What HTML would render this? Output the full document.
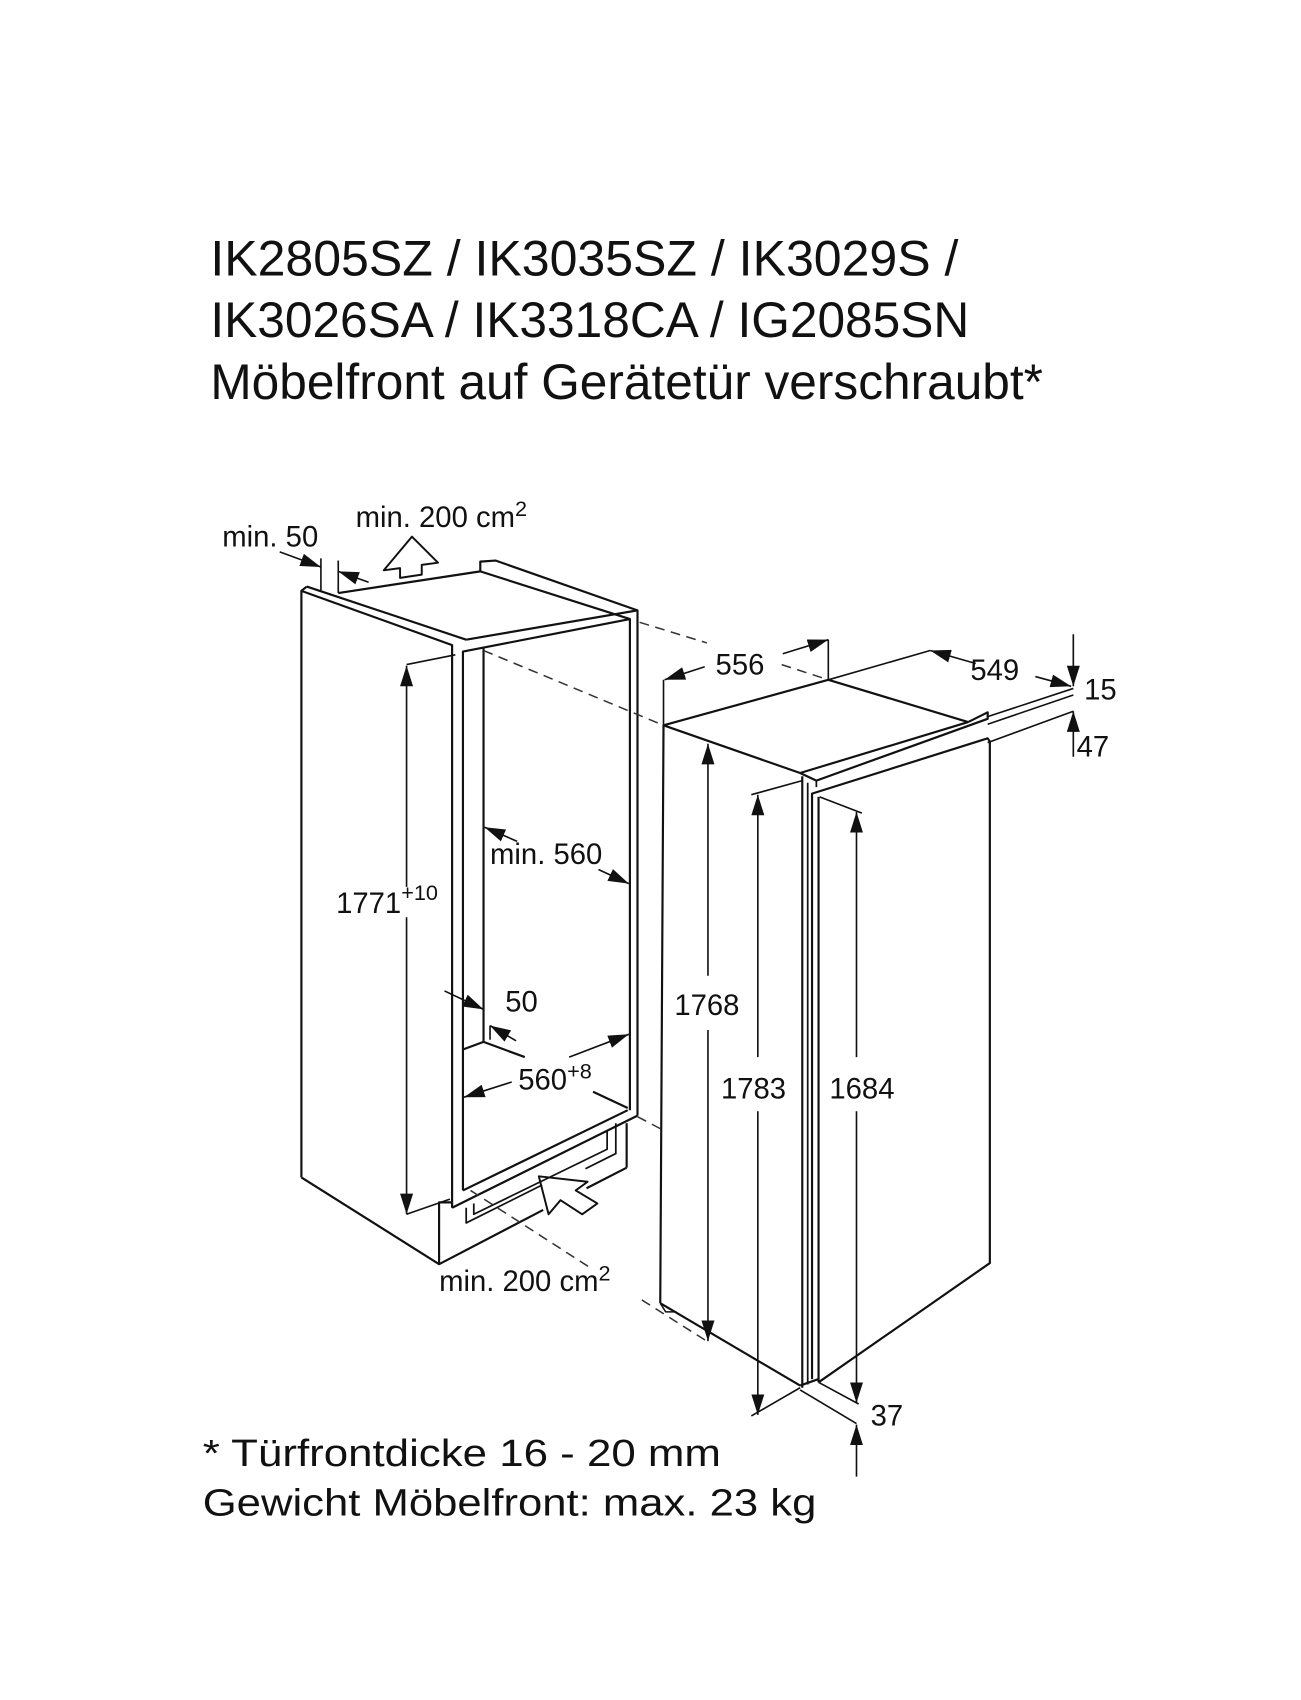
<!DOCTYPE html>
<html><head><meta charset="utf-8"><style>
html,body{margin:0;padding:0;background:#fff;}
svg{display:block;}
text{font-family:"Liberation Sans",Arial,sans-serif;fill:#111;}
</style></head><body>
<svg width="1301" height="1700" viewBox="0 0 1200 1568" xmlns="http://www.w3.org/2000/svg">
<defs>
<marker id="a" markerUnits="userSpaceOnUse" markerWidth="20" markerHeight="12" refX="19" refY="6" orient="auto">
<path d="M0,0 L19,6 L0,12 z" fill="#111"/></marker>
</defs>
<rect width="1200" height="1568" fill="#fff"/>

<text x="194" y="254" font-size="46" textLength="690" lengthAdjust="spacingAndGlyphs">IK2805SZ / IK3035SZ / IK3029S /</text>
<text x="194" y="311" font-size="46" textLength="700" lengthAdjust="spacingAndGlyphs">IK3026SA / IK3318CA / IG2085SN</text>
<text x="194" y="368" font-size="46" textLength="768" lengthAdjust="spacingAndGlyphs">Möbelfront auf Gerätetür verschraubt*</text>

<g fill="none" stroke="#111" stroke-width="2" stroke-linejoin="round">
<polyline points="278,1086 278,545 417,595 417,1109"/>
<line x1="283" y1="541" x2="430" y2="590"/>
<line x1="278" y1="545" x2="283" y2="541"/>
<polyline points="312,547 443,527 443,518 457,517 588,563 588,1029"/>
<line x1="443" y1="527" x2="581" y2="571"/>
<line x1="430" y1="590" x2="588" y2="563"/>
<polyline points="427,1098 427,601 581,571 581,1024"/>
<line x1="446" y1="598" x2="446" y2="961"/>
<polyline points="427,968 446,961 484,975"/>
<line x1="547" y1="1007" x2="579" y2="1022"/>
<line x1="417" y1="1114" x2="588" y2="1029"/>
<line x1="427" y1="1098" x2="579" y2="1024"/>
<line x1="417" y1="1109" x2="417" y2="1114"/>
<polyline points="278,1086 405,1166 405,1109 417,1109"/>
<line x1="405" y1="1166" x2="501" y2="1116"/>
<line x1="541" y1="1096" x2="578" y2="1077"/>
<line x1="578" y1="1077" x2="578" y2="1036"/>
<polyline points="430,1114 430,1128 500,1093" stroke-width="1.6"/>
<polyline points="437,1110 437,1120 560,1060 560,1043" stroke-width="1.6"/>
<polyline points="540,1078 568,1064 568,1036" stroke-width="1.6"/>
<polygon points="497,1085 542,1090 531,1098 551,1110 537,1120 517,1107 506,1120" stroke-width="1.8"/>
<polygon points="380,495 404,519 389,521 389,530 369,533 369,524 354,526" stroke-width="1.8"/>

<polyline points="609,1202 612,669 764,627 893,666"/>
<line x1="612" y1="669" x2="738" y2="713"/>
<line x1="738" y1="713" x2="893" y2="666"/>
<polyline points="738,713 753,720 911,663 911,657 893,666"/>
<line x1="753" y1="720" x2="753" y2="726" stroke-width="1.6"/>
<line x1="740" y1="716" x2="740" y2="1280"/>
<line x1="745" y1="722" x2="745" y2="1277" stroke-width="1.6"/>
<polyline points="749,1272 749,732 911,681 913,684 913,1165 755,1275"/>
<line x1="755" y1="735" x2="755" y2="1275"/>
<line x1="609" y1="1202" x2="738" y2="1278"/>
<line x1="738" y1="1278" x2="755" y2="1272"/>
<polyline points="609,1202 614,1210 624,1210" stroke-width="1.4"/>
</g>

<g stroke="#333" stroke-width="1.4" stroke-dasharray="9,6" fill="none">
<line x1="590" y1="574" x2="652" y2="593"/>
<line x1="721" y1="613" x2="764" y2="627"/>
<line x1="446" y1="600" x2="612" y2="669"/>
<line x1="588" y1="1030" x2="609" y2="1041"/>
<line x1="434" y1="1098" x2="547" y2="1171"/>
<line x1="592" y1="1199" x2="655" y2="1239"/>
</g>

<g stroke="#111" stroke-width="1.5" fill="none">
<line x1="296" y1="515" x2="296" y2="545"/>
<line x1="312" y1="517" x2="312" y2="547"/>
<line x1="258" y1="509" x2="296" y2="523" marker-end="url(#a)"/>
<line x1="340" y1="537" x2="312" y2="527" marker-end="url(#a)"/>
<line x1="375" y1="613" x2="420" y2="604"/>
<line x1="375" y1="1120" x2="415" y2="1106"/>
<line x1="375" y1="818" x2="375" y2="614" marker-end="url(#a)"/>
<line x1="375" y1="846" x2="375" y2="1120" marker-end="url(#a)"/>
<line x1="477" y1="776" x2="447" y2="763" marker-end="url(#a)"/>
<line x1="552" y1="802" x2="580" y2="815" marker-end="url(#a)"/>
<line x1="410" y1="914" x2="446" y2="931" marker-end="url(#a)"/>
<line x1="476" y1="960" x2="452" y2="946" marker-end="url(#a)"/>
<line x1="452" y1="946" x2="452" y2="959"/>
<line x1="472" y1="998" x2="428" y2="1012" marker-end="url(#a)"/>
<line x1="525" y1="975" x2="580" y2="954" marker-end="url(#a)"/>
<line x1="612" y1="669" x2="612" y2="627"/>
<line x1="764" y1="627" x2="764" y2="590"/>
<line x1="650" y1="615" x2="613" y2="627" marker-end="url(#a)"/>
<line x1="722" y1="603" x2="764" y2="590" marker-end="url(#a)"/>
<line x1="764" y1="627" x2="858" y2="600"/>
<line x1="900" y1="612" x2="858" y2="600" marker-end="url(#a)"/>
<line x1="955" y1="624" x2="988" y2="633" marker-end="url(#a)"/>
<line x1="911" y1="661" x2="990" y2="635"/>
<line x1="911" y1="668" x2="990" y2="641"/>
<line x1="911" y1="685" x2="990" y2="656"/>
<line x1="990" y1="585" x2="990" y2="633" marker-end="url(#a)"/>
<line x1="990" y1="698" x2="990" y2="656" marker-end="url(#a)"/>
<line x1="653" y1="900" x2="653" y2="686" marker-end="url(#a)"/>
<line x1="653" y1="950" x2="653" y2="1237" marker-end="url(#a)"/>
<line x1="693" y1="733" x2="740" y2="720"/>
<line x1="693" y1="1306" x2="738" y2="1280"/>
<line x1="699" y1="975" x2="699" y2="733" marker-end="url(#a)"/>
<line x1="699" y1="1025" x2="699" y2="1305" marker-end="url(#a)"/>
<line x1="756" y1="735" x2="795" y2="750"/>
<line x1="755" y1="1275" x2="792" y2="1295"/>
<line x1="790" y1="975" x2="790" y2="749" marker-end="url(#a)"/>
<line x1="790" y1="1025" x2="790" y2="1294" marker-end="url(#a)"/>
<line x1="738" y1="1282" x2="790" y2="1313"/>
<line x1="790" y1="1362" x2="790" y2="1314" marker-end="url(#a)"/>
</g>

<g font-size="27">
<text x="205" y="504">min. 50</text>
<text x="328" y="486">min. 200 cm<tspan font-size="20" dy="-10">2</tspan></text>
<text x="310" y="842">1771<tspan font-size="20" dy="-12">+10</tspan></text>
<text x="452" y="797">min. 560</text>
<text x="466" y="933">50</text>
<text x="478" y="1005">560<tspan font-size="20" dy="-10">+8</tspan></text>
<text x="405" y="1191">min. 200 cm<tspan font-size="20" dy="-10">2</tspan></text>
<text x="660" y="622">556</text>
<text x="895" y="627">549</text>
<text x="1000" y="645">15</text>
<text x="993" y="698">47</text>
<text x="622" y="936">1768</text>
<text x="665" y="1013">1783</text>
<text x="765" y="1013">1684</text>
<text x="803" y="1315">37</text>
</g>

<text x="187" y="1352" font-size="35" textLength="478" lengthAdjust="spacingAndGlyphs">* Türfrontdicke 16 - 20 mm</text>
<text x="187" y="1398" font-size="35" textLength="566" lengthAdjust="spacingAndGlyphs">Gewicht Möbelfront: max. 23 kg</text>
</svg>
</body></html>
